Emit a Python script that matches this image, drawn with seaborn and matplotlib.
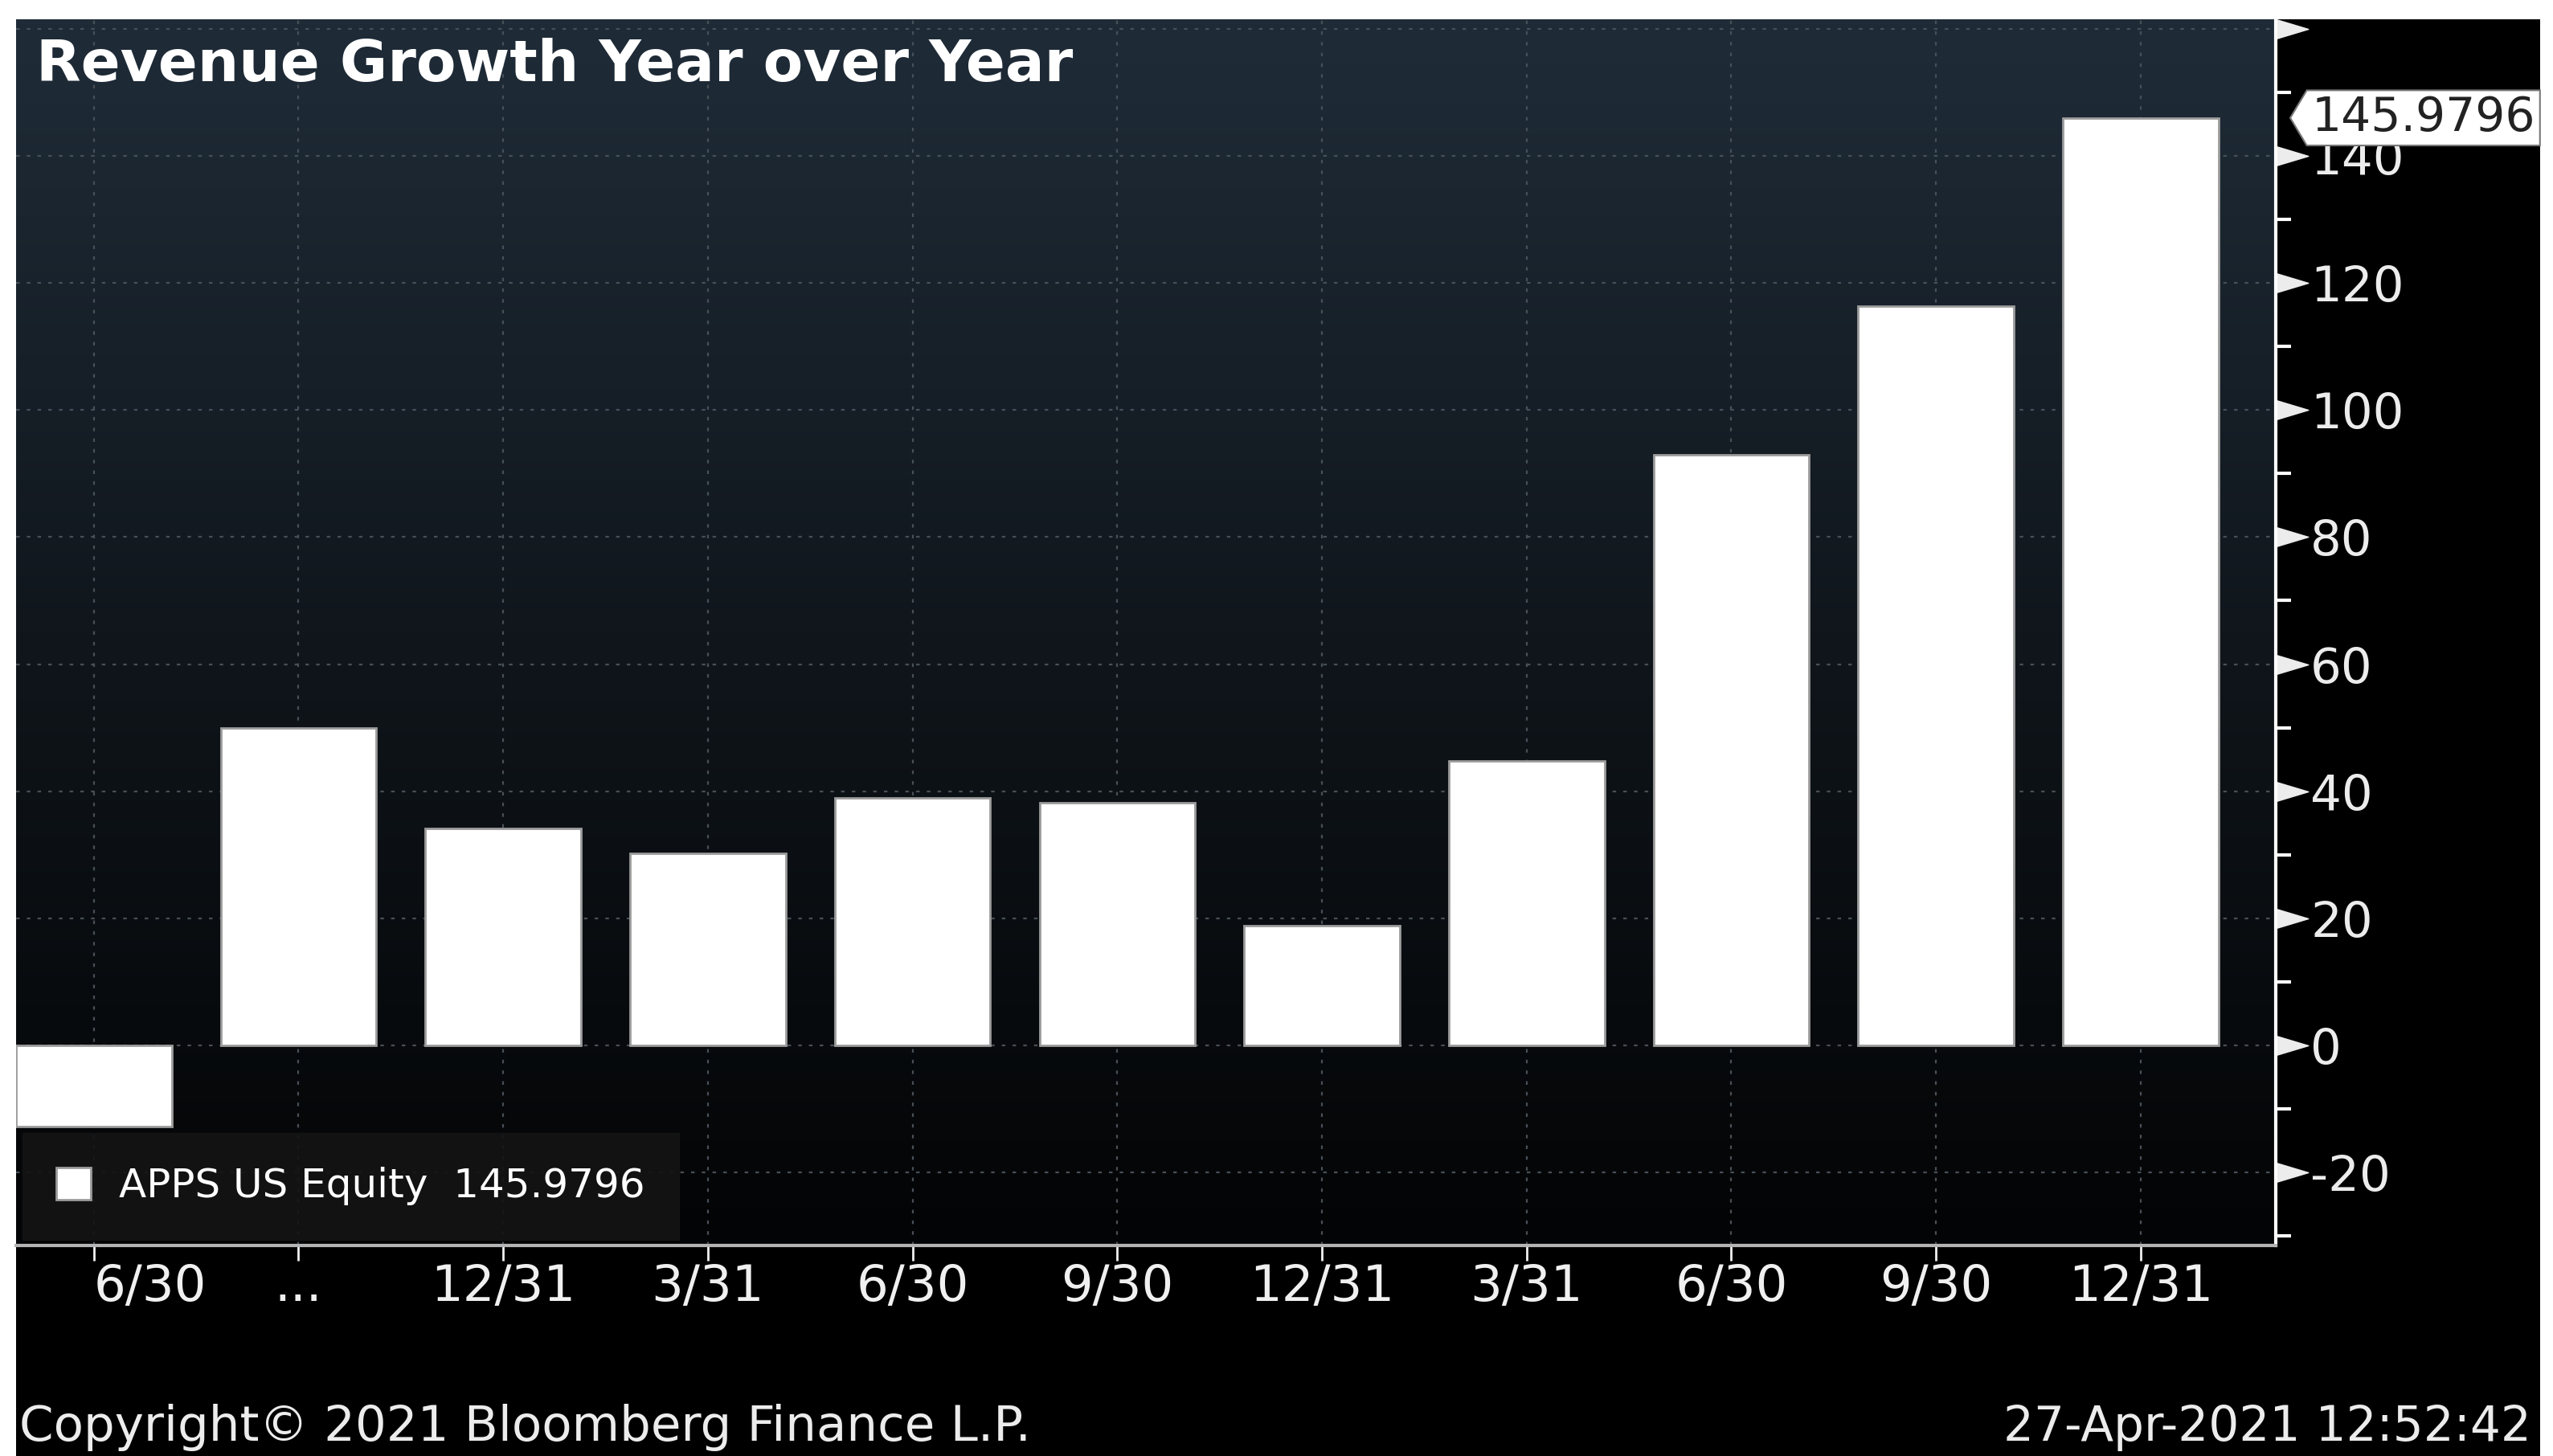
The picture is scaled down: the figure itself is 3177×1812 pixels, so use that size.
import numpy as np
import pandas as pd
import matplotlib
matplotlib.use("Agg")
import matplotlib.pyplot as plt
import seaborn as sns
from matplotlib.path import Path
from matplotlib.colors import LinearSegmentedColormap
import matplotlib.transforms as mtransforms
from matplotlib.patches import Rectangle

# ---------------- data ----------------
quarters = ["2018-06-30", "2018-09-30", "2018-12-31", "2019-03-31", "2019-06-30",
            "2019-09-30", "2019-12-31", "2020-03-31", "2020-06-30", "2020-09-30",
            "2020-12-31"]
tick_labels = ["6/30", "...", "12/31", "3/31", "6/30", "9/30", "12/31", "3/31",
               "6/30", "9/30", "12/31"]
growth = [-12.8, 49.9, 34.1, 30.2, 38.9, 38.2, 18.9, 44.8, 93.0, 116.3, 145.9796]
y_ticks = [-20, 0, 20, 40, 60, 80, 100, 120, 140, 160]
y_tick_labels = ["-20", "0", "20", "40", "60", "80", "100", "120", "140", ""]
y_minor = [-30, -10, 10, 30, 50, 70, 90, 110, 130, 150]
series_name = "APPS US Equity"
last_value_label = "145.9796"
title = "Revenue Growth Year over Year"
copyright_text = "Copyright\u00a9 2021 Bloomberg Finance L.P."
timestamp = "27-Apr-2021 12:52:42"

# ---------------- style ----------------
sns.set_theme(style="ticks")
plt.rcParams['font.family'] = ['DejaVu Sans']

W, H = 3177, 1812
fig = plt.figure(figsize=(W / 100, H / 100), dpi=100, facecolor='white')
fig.add_artist(Rectangle((20 / W, 0), (3161 - 20) / W, 1 - 24 / H,
                         transform=fig.transFigure, facecolor='black',
                         edgecolor='none', zorder=-10))
ax = fig.add_axes([20 / W, 1 - 1550 / H, (2832 - 20) / W, (1550 - 24) / H])
ax.set_facecolor('black')

# gradient background
grad = np.linspace(0, 1, 256).reshape(-1, 1)
cmap = LinearSegmentedColormap.from_list('bg', ['#1f2c38', '#10161c', '#030405'])
ax.imshow(grad, extent=[0, 1, 0, 1], transform=ax.transAxes, cmap=cmap,
          aspect='auto', origin='upper', zorder=0)

df = pd.DataFrame({'quarter': quarters, 'growth': growth})
sns.barplot(data=df, x='quarter', y='growth', order=quarters, color='white',
            saturation=1, width=0.76, edgecolor='#9c9c9c', linewidth=2,
            ax=ax, label=series_name + "  " + last_value_label, zorder=3)

ax.set_axisbelow(True)
ax.grid(True, which='major', axis='both', color='#474f57',
        linestyle=(0, (2, 4)), linewidth=1.6)

# ---- axes ----
ax.set_xlabel('')
ax.set_ylabel('')
ax.set_xticks(range(len(quarters)))
ax.set_xticklabels(tick_labels)
ax.yaxis.tick_right()
ax.set_yticks(y_ticks)
ax.set_yticklabels(y_tick_labels)
ax.set_yticks(y_minor, minor=True)

ax.tick_params(axis='x', which='major', direction='out', length=14, width=2,
               colors='#f0f0f0', labelsize=45, pad=2, bottom=True, top=False)
ax.tick_params(axis='y', which='major', direction='out', length=58, width=1,
               colors='#ececec', labelsize=44, pad=-27, right=True, left=False)
ax.tick_params(axis='y', which='minor', direction='out', length=14, width=3,
               colors='white', right=True, left=False)

xl = ax.get_xticklabels()
xl[0].set_ha('left')

for s in ['left', 'top']:
    ax.spines[s].set_visible(False)
ax.spines['right'].set_color('white')
ax.spines['right'].set_linewidth(3)
ax.spines['bottom'].set_color('#b4b4b4')
ax.spines['bottom'].set_linewidth(3)

ax.set_xlim(-0.38, 10.66)
ax.set_ylim(-31.5, 161.5)

# wedge-shaped major ticks
wedge = Path([(0, -0.3), (1, 0), (0, 0.3), (0, -0.3)], closed=True)
for t in ax.yaxis.get_major_ticks():
    t.tick2line.set_marker(wedge)

# ---- title ----
ax.text(0.0089, 0.9626, title, transform=ax.transAxes, color='white',
        fontsize=52, fontweight='bold', va='center', ha='left', zorder=5)


# ---- last value tag ----
def tag_box(x0, y0, width, height, mutation_size):
    pad = mutation_size * 0.1
    x0, y0 = x0 - pad, y0 - pad
    width, height = width + 2 * pad, height + 2 * pad
    x1, y1 = x0 + width, y0 + height
    dx = height * 0.3
    ym = y0 + height / 2
    return Path([(x0 - dx, ym), (x0, y0), (x1, y0), (x1, y1), (x0, y1), (x0 - dx, ym)],
                closed=True)


trans = mtransforms.blended_transform_factory(ax.transAxes, ax.transData)
ax.annotate(last_value_label, xy=(1, growth[-1]), xycoords=trans,
            xytext=(32, 0), textcoords='offset points', ha='left', va='center',
            fontsize=42, color='#222222',
            bbox=dict(boxstyle=tag_box, fc='white', ec='#777777', lw=1.5),
            annotation_clip=False, zorder=6)

# ---- legend ----
leg = ax.legend(loc='lower left', fontsize=36, frameon=True, fancybox=False,
                facecolor='#141414', edgecolor='#141414', framealpha=0.92,
                borderpad=0.85, handlelength=0.85, handleheight=0.85,
                handletextpad=0.7, borderaxespad=0.15, labelcolor='white')
leg.set_zorder(7)

# ---- footer ----
fig.text(24 / W, 1 - 1777 / H, copyright_text, color='#ececec', fontsize=44,
         va='center', ha='left')
fig.text(3150 / W, 1 - 1777 / H, timestamp, color='#ececec', fontsize=43,
         va='center', ha='right')

fig.savefig('out.png', dpi=100, facecolor='white')
